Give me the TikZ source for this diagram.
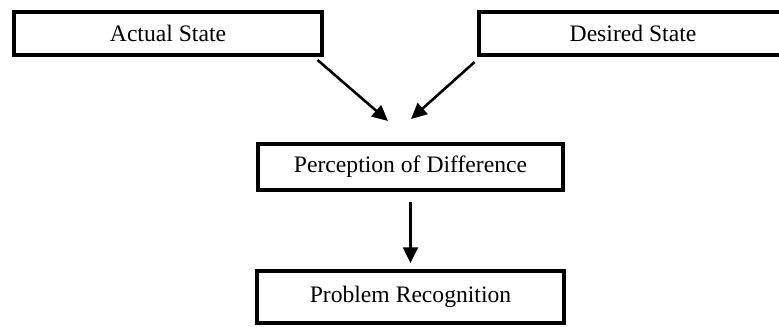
\documentclass[tikz,border=0pt]{standalone}
\usepackage{fontspec}
\setmainfont{Liberation Serif}
\usetikzlibrary{arrows.meta, positioning}

\begin{document}
\begin{tikzpicture}[
        x=0.508pt, y=-0.508pt,
        every node/.style={font=\fontsize{12}{14}\selectfont},
        box/.style={
            rectangle, draw=black, line width=2pt,
            fill=white, align=center, inner sep=4pt
        },
        topbox/.style={box, minimum width=156pt, minimum height=22pt},
        midbox/.style={box, minimum width=155pt, minimum height=23.5pt},
        lowbox/.style={box, minimum width=156pt, minimum height=26.5pt},
        arr/.style={-{Triangle[length=8pt, width=7.5pt]}, line width=1.3pt, draw=black}
        ]

    % --- marco de la imagen ---
        \useasboundingbox (0,0) rectangle (779,327);
        \clip (0,0) rectangle (779,327);

    % --- Nivel 1: los dos estados ---
        \node[topbox] (actual) at (168,33.5) {Actual State};
        \node[topbox] (desired) at (633,33.5) {Desired State};

    % --- Nivel 2: la diferencia ---
        \node[midbox] (percep) at (410.5,167) {Perception of Difference};

        \coordinate (tipL) at (388,121);
        \coordinate (tipR) at (411,119);

        \draw[arr] ([xshift=-3pt, yshift=-1.5pt]actual.south east) -- (tipL);
        \draw[arr] ([xshift=-1.5pt, yshift=-2.5pt]desired.south west) -- (tipR);

    % --- Nivel 3: reconocimiento ---
        \node[lowbox] (problem) at (410.5,297) {Problem Recognition};

        \draw[arr, shorten <=5pt, shorten >=3pt] (percep) -- (problem);

    \end{tikzpicture}
\end{document}
